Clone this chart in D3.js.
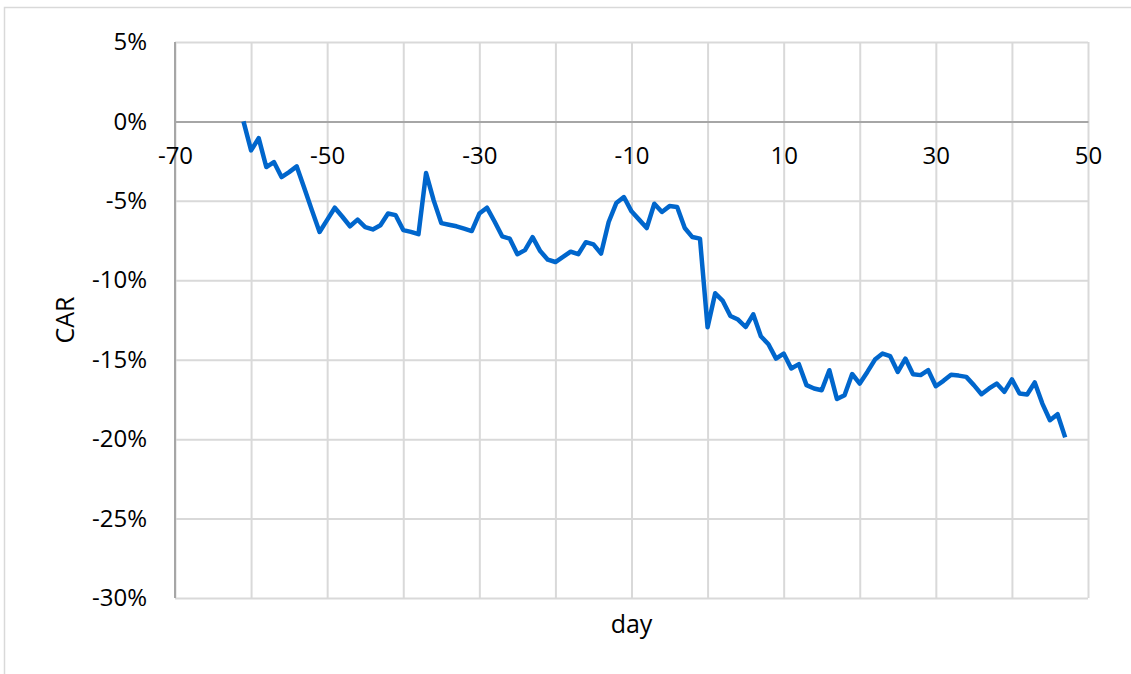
<!DOCTYPE html>
<html>
<head>
<meta charset="utf-8">
<script src="https://cdn.jsdelivr.net/npm/d3@7"></script>
<style>
  html, body { margin: 0; padding: 0; background: #fff; }
  svg { display: block; }
  text { font-family: "Open Sans", "Noto Sans", sans-serif; fill: #000; }
</style>
</head>
<body>
<svg id="chart" width="1131" height="674"></svg>
<script>
// Event window, in trading days relative to the event
const days = d3.range(-61, 48);

// Cumulative abnormal return (%) for each day
const car = [
  0, -1.82, -1.05, -2.87, -2.56, -3.50, -3.19, -2.83, -4.20, -5.60,
  -6.96, -6.20, -5.43, -6.00, -6.60, -6.18, -6.65, -6.80, -6.54, -5.80,
  -5.90, -6.84, -6.95, -7.10, -3.25, -4.97, -6.40, -6.50, -6.60, -6.75,
  -6.90, -5.80, -5.43, -6.30, -7.23, -7.38, -8.36, -8.10, -7.28, -8.16,
  -8.70, -8.85, -8.53, -8.20, -8.36, -7.60, -7.74, -8.32, -6.33, -5.14,
  -4.76, -5.66, -6.18, -6.71, -5.18, -5.70, -5.33, -5.39, -6.71, -7.28,
  -7.38, -12.96, -10.82, -11.30, -12.25, -12.47, -12.94, -12.14, -13.52, -14.03,
  -14.93, -14.61, -15.55, -15.28, -16.60, -16.81, -16.92, -15.66, -17.47, -17.23,
  -15.90, -16.50, -15.77, -14.99, -14.61, -14.78, -15.77, -14.93, -15.91, -15.97,
  -15.66, -16.67, -16.33, -15.95, -16.00, -16.08, -16.60, -17.17, -16.81, -16.50,
  -17.02, -16.24, -17.13, -17.19, -16.43, -17.76, -18.81, -18.43, -19.89
];

// Axis ticks
const xGridTicks = d3.range(-70, 51, 10);
const xLabelTicks = [-70, -50, -30, -10, 10, 30, 50];
const yTicks = [5, 0, -5, -10, -15, -20, -25, -30];

const xTitle = "day";
const yTitle = "CAR";

const svg = d3.select("#chart");

// Outer chart frame
svg.append("rect")
  .attr("x", 4.5).attr("y", 7.5)
  .attr("width", 1140).attr("height", 680)
  .attr("fill", "none")
  .attr("stroke", "#d9d9d9")
  .attr("stroke-width", 1.5);

const plot = { left: 175, right: 1088, top: 42, bottom: 598 };

const x = d3.scaleLinear().domain([-70, 50]).range([plot.left, plot.right]);
const y = d3.scaleLinear().domain([-30, 5]).range([plot.bottom, plot.top]);

// Horizontal gridlines
svg.append("g")
  .attr("transform", `translate(${plot.left},0)`)
  .call(d3.axisLeft(y).tickValues(yTicks).tickSize(-(plot.right - plot.left)).tickFormat(""))
  .call(g => g.select(".domain").remove())
  .call(g => g.selectAll("line").attr("stroke", "#d9d9d9").attr("stroke-width", 2));

// Vertical gridlines
svg.append("g")
  .attr("transform", `translate(0,${plot.bottom})`)
  .call(d3.axisBottom(x).tickValues(xGridTicks).tickSize(-(plot.bottom - plot.top)).tickFormat(""))
  .call(g => g.select(".domain").remove())
  .call(g => g.selectAll("line").attr("stroke", "#d9d9d9").attr("stroke-width", 2));

// Left axis line
svg.append("line")
  .attr("x1", plot.left).attr("x2", plot.left)
  .attr("y1", plot.top).attr("y2", plot.bottom)
  .attr("stroke", "#a6a6a6").attr("stroke-width", 2);

// Y tick labels
svg.append("g")
  .attr("transform", `translate(${plot.left},0)`)
  .call(d3.axisLeft(y).tickValues(yTicks).tickSize(0).tickPadding(28).tickFormat(d => d + "%"))
  .call(g => g.select(".domain").remove())
  .call(g => g.selectAll("text")
    .style("font-family", "'Open Sans', sans-serif")
    .attr("font-size", 24).attr("fill", "#000"));

// Horizontal axis along 0%
svg.append("g")
  .attr("transform", `translate(0,${y(0)})`)
  .call(d3.axisBottom(x).tickValues(xLabelTicks).tickSize(0).tickPadding(26).tickFormat(d => d))
  .call(g => g.select(".domain").attr("stroke", "#a6a6a6").attr("stroke-width", 2))
  .call(g => g.selectAll("text")
    .style("font-family", "'Open Sans', sans-serif")
    .attr("font-size", 24).attr("fill", "#000"));

// CAR line
const line = d3.line()
  .x((d, i) => x(days[i]))
  .y(d => y(d));

svg.append("path")
  .datum(car)
  .attr("d", line)
  .attr("fill", "none")
  .attr("stroke", "#0066cc")
  .attr("stroke-width", 4.5)
  .attr("stroke-linejoin", "round");

// Axis titles
svg.append("text")
  .attr("x", (plot.left + plot.right) / 2)
  .attr("y", 633)
  .attr("text-anchor", "middle")
  .attr("font-size", 25)
  .text(xTitle);

svg.append("text")
  .attr("transform", `translate(74,${(plot.top + plot.bottom) / 2}) rotate(-90)`)
  .attr("text-anchor", "middle")
  .attr("font-size", 25)
  .text(yTitle);
</script>
</body>
</html>
